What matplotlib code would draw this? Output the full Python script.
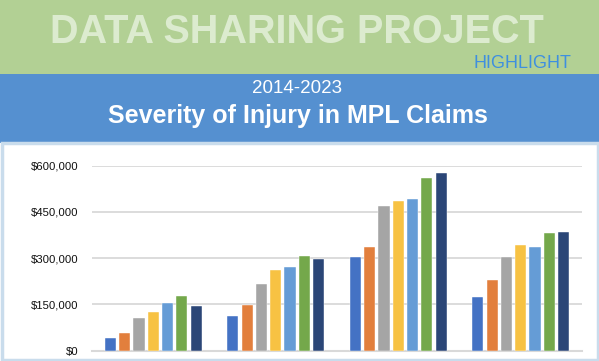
import numpy as np
import matplotlib.pyplot as plt
from matplotlib.patches import Rectangle
from matplotlib.ticker import FuncFormatter

plt.rcParams['font.family'] = ['Liberation Sans', 'DejaVu Sans']

# severity categories (not labelled on the chart)
categories = ['Minor', 'Significant', 'Major', 'Death']
series_names = ['S1', 'S2', 'S3', 'S4', 'S5', 'S6', 'S7']
colors = ['#4472C4', '#E27F3D', '#A5A5A5', '#F7C243', '#659CD6', '#74A84B', '#2B4677']

# average indemnity per series, one list per series (4 categories each)
s1 = [42000, 112000, 304000, 173000]
s2 = [59000, 148000, 337000, 228000]
s3 = [105000, 216000, 468000, 304000]
s4 = [124000, 263000, 484000, 343000]
s5 = [156000, 270000, 491000, 335000]
s6 = [177000, 306000, 561000, 381000]
s7 = [146000, 299000, 575000, 384000]
values = [s1, s2, s3, s4, s5, s6, s7]
yticks = [0, 150000, 300000, 450000, 600000]

W, H = 599, 361
fig = plt.figure(figsize=(W / 100, H / 100), dpi=100)

def px_rect(x0, y0, x1, y1, **kw):
    # rectangle in pixel coords (top-left origin)
    r = Rectangle((x0 / W, 1 - y1 / H), (x1 - x0) / W, (y1 - y0) / H,
                  transform=fig.transFigure, **kw)
    fig.add_artist(r)

def px_text(x, y, s, **kw):
    fig.text(x / W, 1 - y / H, s, **kw)

# banners
px_rect(0, 0, W, 74, facecolor='#B2D094', edgecolor='none', zorder=0)
px_rect(0, 74, W, 143, facecolor='#5590D0', edgecolor='none', zorder=0)
px_rect(1.5, 143, W - 1.5, H - 1.5, facecolor='white', edgecolor='#C9DCEC', linewidth=2.5, zorder=0)

px_text(297, 43, 'DATA SHARING PROJECT', ha='center', va='baseline',
        fontsize=28.5, fontweight='bold', color='#DCEBCF')
px_text(571, 68, 'HIGHLIGHT', ha='right', va='baseline', fontsize=13, color='#3E8FDF')
px_text(297, 93, '2014-2023', ha='center', va='baseline', fontsize=13.5, color='white')
px_text(298, 123, 'Severity of Injury in MPL Claims', ha='center', va='baseline',
        fontsize=18, fontweight='bold', color='white')

# chart
ax_l, ax_r = 92, 582
y0_px, ytop_px = 350.7, 165.7
ax = fig.add_axes([ax_l / W, 1 - y0_px / H, (ax_r - ax_l) / W, (y0_px - ytop_px) / H])
ax.set_facecolor('none')

x = np.arange(len(categories))
pitch = 0.1167
width = 0.092
for i, (vals, c) in enumerate(zip(values, colors)):
    ax.bar(x + (i - 3) * pitch, vals, width, color=c, edgecolor='white',
           linewidth=0.3, label=series_names[i], zorder=3)

ax.set_xlim(-0.5, len(categories) - 0.5)
ax.set_ylim(0, 600000)
ax.set_yticks(yticks)
ax.yaxis.set_major_formatter(FuncFormatter(lambda v, p: '${:,.0f}'.format(v)))
ax.grid(axis='y', color='#D9D9D9', linewidth=1.3, zorder=0)
ax.set_xticks([])
ax.tick_params(axis='y', length=0, pad=10, labelsize=8.2, labelcolor='#111111')
for s in ax.spines.values():
    s.set_visible(False)
ax.axhline(0, color='#D9D9D9', linewidth=1.5, zorder=2, clip_on=False)

fig.savefig('out.png', dpi=100)
